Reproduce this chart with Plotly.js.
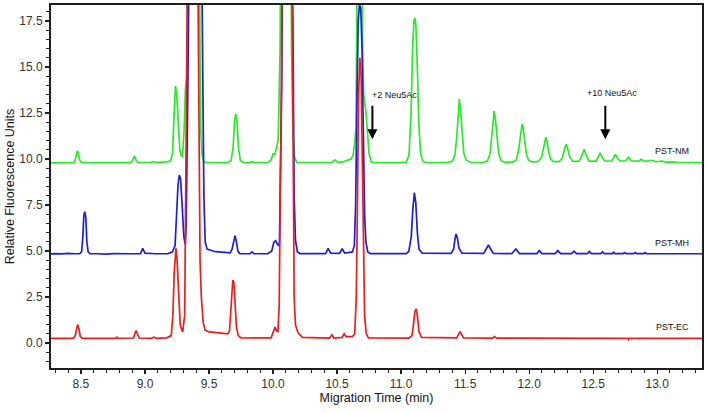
<!DOCTYPE html>
<html>
<head>
<meta charset="utf-8">
<script src="https://cdn.plot.ly/plotly-3.0.1.min.js"></script>
<style>html,body{margin:0;padding:0;background:#fff;}#chart{width:708px;height:413px;}</style>
</head>
<body>
<div id="chart"></div>
<script>
// ---- Data: [migration time (min), signal (RFU)] ----
const seriesNames = ["PST-NM", "PST-MH", "PST-EC"];

const nmPoints = [
[8.266,9.79],[8.40,9.80],[8.445,9.80],[8.455,9.95],[8.465,10.35],[8.472,10.45],[8.48,10.30],[8.49,9.95],[8.505,9.80],
[8.70,9.80],[8.89,9.80],[8.905,9.95],[8.917,10.16],[8.93,9.95],[8.945,9.80],
[9.04,9.81],[9.065,9.86],[9.085,9.81],[9.17,9.84],[9.20,9.90],[9.215,10.30],[9.228,12.5],[9.238,13.97],[9.247,13.6],[9.258,12.0],[9.272,10.5],[9.285,10.15],[9.293,10.12],
[9.305,11.5],[9.316,13.8],[9.326,14.5],[9.38,60],[9.432,14.0],[9.436,11.5],[9.445,10.3],[9.458,9.85],[9.48,9.80],
[9.64,9.80],[9.672,9.90],[9.688,10.6],[9.700,12.1],[9.709,12.45],[9.718,12.1],[9.730,10.6],[9.745,9.92],[9.77,9.80],
[9.82,9.80],[9.836,9.86],[9.85,9.80],[9.96,9.82],[9.985,9.95],[10.00,10.28],[10.015,10.25],[10.025,10.5],[10.04,11.0],
[10.055,16.0],[10.10,60],[10.145,16.0],[10.155,11.5],[10.168,10.1],[10.185,9.82],
[10.30,9.80],[10.46,9.82],[10.484,9.95],[10.505,9.82],[10.55,9.84],[10.57,9.92],[10.59,9.95],[10.61,10.0],[10.625,10.2],[10.64,11.0],[10.648,11.8],
[10.655,16.0],[10.677,40],[10.70,16.0],[10.708,13.5],[10.725,12.6],[10.738,11.5],[10.75,10.3],[10.765,9.85],[10.79,9.80],
[11.0,9.80],[11.04,9.83],[11.062,10.2],[11.078,12.5],[11.09,16.0],[11.10,17.5],[11.108,17.66],[11.115,17.3],[11.125,15.5],[11.138,12.0],[11.152,10.3],[11.17,9.88],[11.20,9.80],
[11.36,9.80],[11.40,9.88],[11.42,10.2],[11.435,11.2],[11.446,12.6],[11.455,13.26],[11.464,12.7],[11.476,11.3],[11.49,10.3],[11.51,9.92],[11.55,9.81],
[11.64,9.81],[11.675,9.90],[11.695,10.3],[11.708,11.2],[11.718,12.1],[11.727,12.61],[11.736,12.2],[11.748,11.2],[11.762,10.3],[11.78,9.92],[11.81,9.82],
[11.87,9.83],[11.90,9.95],[11.918,10.5],[11.93,11.2],[11.939,11.7],[11.945,11.9],[11.953,11.7],[11.965,11.0],[11.978,10.3],[11.995,9.95],[12.02,9.84],
[12.065,9.85],[12.095,10.05],[12.11,10.5],[12.122,11.0],[12.13,11.18],[12.14,10.95],[12.152,10.4],[12.168,10.0],[12.19,9.86],
[12.235,9.86],[12.26,10.05],[12.275,10.5],[12.29,10.8],[12.303,10.5],[12.318,10.1],[12.34,9.88],
[12.39,9.87],[12.413,10.2],[12.43,10.53],[12.447,10.2],[12.468,9.88],
[12.525,9.88],[12.54,10.1],[12.555,10.34],[12.57,10.1],[12.59,9.89],
[12.645,9.89],[12.66,10.1],[12.674,10.25],[12.688,10.05],[12.71,9.89],
[12.75,9.89],[12.776,10.09],[12.80,9.89],[12.855,9.88],[12.875,9.98],[12.90,9.87],
[12.958,9.93],[12.99,9.85],[13.037,9.88],[13.07,9.83],[13.12,9.84],[13.16,9.81],[13.35,9.80]
];

const mhPoints = [
[8.266,4.84],[8.30,4.86],[8.35,4.84],[8.40,4.87],[8.45,4.85],[8.49,4.86],[8.505,4.95],[8.515,5.8],[8.522,6.9],[8.53,7.14],[8.538,6.8],[8.546,5.5],[8.556,4.95],[8.57,4.86],
[8.63,4.85],[8.70,4.83],[8.75,4.86],[8.82,4.84],[8.88,4.85],[8.965,4.86],[8.982,5.14],[9.0,4.88],[9.08,4.85],[9.18,4.86],[9.215,4.95],[9.235,5.3],
[9.245,6.8],[9.258,8.6],[9.268,9.13],[9.278,8.9],[9.29,7.5],[9.303,5.8],[9.315,5.35],
[9.322,6.5],[9.335,14.0],[9.395,60],[9.452,14.0],[9.46,8.0],[9.47,5.5],[9.485,5.1],[9.55,4.96],[9.62,4.92],
[9.665,4.90],[9.68,5.1],[9.692,5.6],[9.703,5.83],[9.714,5.5],[9.725,5.0],[9.74,4.86],
[9.82,4.85],[9.836,4.95],[9.85,4.85],[9.96,4.86],[9.99,5.0],[10.005,5.45],[10.02,5.56],[10.035,5.35],[10.045,5.3],[10.05,5.5],
[10.068,14.0],[10.11,60],[10.155,14.0],[10.165,8.0],[10.175,5.6],[10.19,4.95],[10.21,4.86],
[10.30,4.85],[10.41,4.86],[10.43,5.14],[10.45,4.88],[10.52,4.87],[10.54,5.12],[10.56,4.88],[10.62,4.95],[10.635,5.3],
[10.645,7.5],[10.655,13.0],[10.665,17.5],[10.675,18.4],[10.685,18.2],[10.695,16.0],[10.705,11.0],[10.715,7.0],[10.725,5.5],[10.74,4.95],[10.76,4.86],
[10.90,4.85],[11.04,4.86],[11.06,4.97],[11.08,5.8],[11.092,7.3],[11.104,8.17],[11.115,7.6],[11.127,6.0],[11.14,5.1],[11.165,4.88],
[11.39,4.87],[11.41,5.1],[11.422,5.7],[11.43,5.92],[11.44,5.7],[11.452,5.15],[11.475,4.88],
[11.645,4.87],[11.668,5.15],[11.682,5.33],[11.696,5.15],[11.72,4.87],
[11.865,4.86],[11.896,5.11],[11.925,4.86],[12.06,4.86],[12.08,5.02],[12.10,4.86],
[12.205,4.86],[12.224,5.02],[12.245,4.86],[12.332,4.86],[12.35,4.99],[12.37,4.86],
[12.455,4.86],[12.47,4.97],[12.487,4.86],[12.56,4.86],[12.573,4.95],[12.588,4.86],
[12.65,4.86],[12.66,4.93],[12.672,4.86],[12.735,4.86],[12.745,4.92],[12.757,4.86],
[12.818,4.86],[12.828,4.92],[12.84,4.86],[12.896,4.86],[12.906,4.91],[12.916,4.85],[13.35,4.85]
];

const ecPoints = [
[8.266,0.25],[8.44,0.25],[8.455,0.40],[8.465,0.85],[8.474,1.01],[8.483,0.80],[8.495,0.35],[8.51,0.25],
[8.77,0.25],[8.78,0.32],[8.79,0.25],[8.91,0.27],[8.922,0.55],[8.93,0.67],[8.94,0.50],[8.955,0.27],
[9.05,0.25],[9.07,0.32],[9.09,0.25],[9.17,0.28],[9.205,0.40],[9.218,1.5],[9.228,3.8],[9.236,5.0],[9.242,5.15],[9.25,4.6],[9.262,2.5],[9.275,1.0],[9.29,0.65],[9.295,0.61],
[9.31,1.5],[9.325,14.0],[9.37,60],[9.418,14.0],[9.425,6.0],[9.43,4.5],[9.44,2.5],[9.455,1.1],[9.47,0.70],[9.50,0.60],[9.58,0.55],[9.645,0.50],
[9.66,0.65],[9.672,1.8],[9.68,3.0],[9.686,3.42],[9.694,3.3],[9.703,2.2],[9.714,0.9],[9.728,0.40],[9.75,0.27],
[9.985,0.28],[10.0,0.60],[10.016,0.86],[10.028,0.65],[10.038,0.62],[10.048,2.0],
[10.065,14.0],[10.11,60],[10.152,14.0],[10.158,5.0],[10.165,2.5],[10.175,1.0],[10.195,0.55],[10.23,0.30],
[10.44,0.26],[10.46,0.45],[10.475,0.27],[10.54,0.30],[10.555,0.50],[10.57,0.35],[10.62,0.35],[10.638,0.50],[10.65,2.5],
[10.66,8.0],[10.668,13.5],[10.678,15.5],[10.688,14.5],[10.695,11.0],[10.705,5.0],[10.715,1.5],[10.728,0.50],[10.745,0.27],
[11.06,0.26],[11.085,0.40],[11.095,0.90],[11.108,1.70],[11.117,1.85],[11.127,1.50],[11.14,0.60],[11.16,0.30],
[11.435,0.28],[11.45,0.55],[11.46,0.62],[11.47,0.50],[11.488,0.28],
[11.715,0.26],[11.73,0.35],[11.745,0.26],[12.77,0.25],[12.776,0.18],[12.782,0.25],[13.35,0.25]
];

const xTickVals = [8.5, 9.0, 9.5, 10.0, 10.5, 11.0, 11.5, 12.0, 12.5, 13.0];
const yTickVals = [0.0, 2.5, 5.0, 7.5, 10.0, 12.5, 15.0, 17.5];
const markLabels = ["+2 Neu5Ac", "+10 Neu5Ac"];

// ---- Chart ----
const lineW = 1.7;
const seriesColors = ["rgb(40,235,40)", "rgb(30,30,215)", "rgb(235,30,30)"];
const allPoints = [nmPoints, mhPoints, ecPoints];
const traces = allPoints.map((pts, i) => ({
  x: pts.map(p => p[0]), y: pts.map(p => p[1]),
  name: seriesNames[i], mode: "lines",
  line: {color: seriesColors[i], width: lineW}
}));

const fontFam = "Liberation Sans, Arial, sans-serif";
const axisCol = "#1e1e1e";

const layout = {
  width: 708, height: 413,
  margin: {l: 51, r: 6, t: 5, b: 45, pad: 0},
  paper_bgcolor: "#fff", plot_bgcolor: "#fff",
  showlegend: false,
  font: {family: fontFam, color: "#333", size: 12},
  xaxis: {
    range: [8.266, 13.35], tickvals: xTickVals, tickformat: ".1f",
    ticks: "outside", ticklen: 4, tickwidth: 1.2, tickcolor: axisCol,
    minor: {dtick: 0.1, tick0: 8.5, ticks: "outside", ticklen: 3, tickwidth: 1, tickcolor: axisCol},
    showline: true, linecolor: axisCol, linewidth: 2, mirror: true,
    showgrid: false, zeroline: false,
    tickfont: {size: 12, color: "#333"},
    title: {text: "Migration Time (min)", font: {size: 12.5, color: "#111"}, standoff: 1},
    automargin: false
  },
  yaxis: {
    range: [-1.36, 18.37], tickvals: yTickVals, tickformat: ".1f",
    ticks: "outside", ticklen: 4, tickwidth: 1.2, tickcolor: axisCol,
    minor: {dtick: 0.5, tick0: 0, ticks: "outside", ticklen: 3, tickwidth: 1, tickcolor: axisCol},
    showline: true, linecolor: axisCol, linewidth: 2, mirror: true,
    showgrid: false, zeroline: false,
    tickfont: {size: 12, color: "#333"},
    title: {text: "Relative Fluorescence Units", font: {size: 12.5, color: "#111"}, standoff: 2},
    automargin: false
  },
  annotations: [
    {x: 10.945, y: 13.48, xref: "x", yref: "y", text: markLabels[0], showarrow: false, font: {size: 9, color: "#111"}},
    {x: 12.65, y: 13.6, xref: "x", yref: "y", text: markLabels[1], showarrow: false, font: {size: 9, color: "#111"}},
    {x: 10.776, y: 11.07, xref: "x", yref: "y", text: "", showarrow: true, ax: 0, ay: -35, arrowhead: 2, arrowsize: 1, arrowwidth: 2, arrowcolor: "#000", standoff: 0},
    {x: 12.595, y: 11.07, xref: "x", yref: "y", text: "", showarrow: true, ax: 0, ay: -35, arrowhead: 2, arrowsize: 1, arrowwidth: 2, arrowcolor: "#000", standoff: 0},
    {x: 13.266, y: 10.45, xref: "x", yref: "y", xanchor: "right", text: seriesNames[0], showarrow: false, font: {size: 9, color: "#111"}},
    {x: 13.266, y: 5.45, xref: "x", yref: "y", xanchor: "right", text: seriesNames[1], showarrow: false, font: {size: 9, color: "#111"}},
    {x: 13.266, y: 0.89, xref: "x", yref: "y", xanchor: "right", text: seriesNames[2], showarrow: false, font: {size: 9, color: "#111"}}
  ]
};

Plotly.newPlot("chart", traces, layout, {displayModeBar: false, staticPlot: true});
</script>
</body>
</html>
